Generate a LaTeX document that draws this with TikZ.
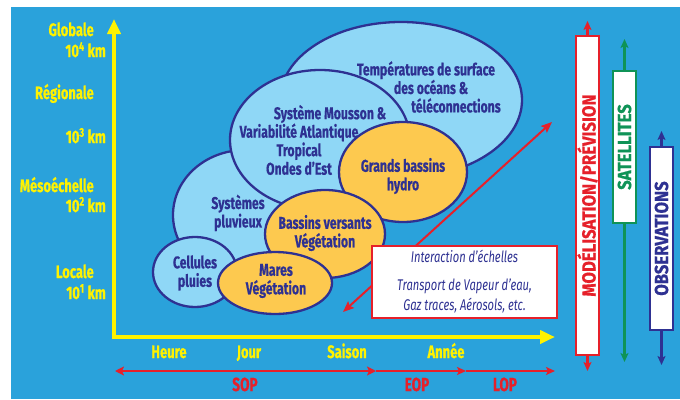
\documentclass[tikz,border=0pt]{standalone}
\usepackage{fontspec}
\setmainfont{Fira Sans}[FakeStretch=0.72, BoldFeatures={FakeBold=0.5}]
\newfontfamily\barfont{Fira Sans}[FakeStretch=0.88, BoldFeatures={FakeBold=0.5}]
\usepackage{tikz}
\usetikzlibrary{shapes.geometric}
\usetikzlibrary{arrows.meta}
\pgfdeclarelayer{nodelayer}
\pgfdeclarelayer{edgelayer}
\pgfsetlayers{nodelayer,edgelayer,main}

\definecolor{sky}{HTML}{2AA2DB}
\definecolor{pale}{HTML}{8FD7F6}
\definecolor{gold}{HTML}{FDC94F}
\definecolor{navy}{HTML}{2E3192}
\definecolor{axisyellow}{HTML}{FFF200}
\definecolor{scarlet}{HTML}{E6202A}
\definecolor{leaf}{HTML}{0F9357}

\tikzset{
  blob/.style={ellipse, draw=navy, line width=2.3pt, inner sep=0pt},
  cold/.style={blob, fill=pale},
  warm/.style={blob, fill=gold},
  blobtext/.style={text=navy, font=\fontsize{17}{18.5}\selectfont\bfseries, align=center, inner sep=0pt},
  scaletext/.style={text=axisyellow, font=\fontsize{18}{18}\selectfont\bfseries, anchor=base east, inner sep=0pt},
  timetext/.style={text=axisyellow, font=\fontsize{18}{18}\selectfont\bfseries, anchor=base, inner sep=0pt},
  periodtext/.style={text=scarlet, font=\fontsize{19}{19}\selectfont\bfseries, anchor=base, inner sep=0pt},
  bar/.style={rotate=90, fill=white, line width=1.5pt, minimum height=23pt, inner sep=0pt, font=\barfont\fontsize{19}{19}\selectfont\bfseries},
  yellowarrow/.style={axisyellow, line width=4pt, line join=miter, {Triangle[length=15pt, width=13pt]}-{Triangle[length=15pt, width=13pt]}},
  redtip/.style={-{Stealth[length=9pt, width=8pt, inset=2pt]}},
}

\begin{document}
\begin{tikzpicture}[x=1pt, y=-1pt]
  \useasboundingbox (0,0) rectangle (680,399);
  \begin{pgfonlayer}{nodelayer}
    \fill [white] (0,0) rectangle (680,399);
    \fill [sky] (11,7) rectangle (680,399);
    % scales
    \node [cold, minimum width=242pt, minimum height=156pt] (0) at (401, 100) {};
    \node [cold, minimum width=144pt, minimum height=130pt] (1) at (245, 215) {};
    \node [cold, minimum width=180pt, minimum height=140pt] (2) at (320, 140) {};
    \node [warm, minimum width=128pt, minimum height=100pt] (3) at (403, 172) {};
    \node [warm, minimum width=120pt, minimum height=88pt] (4) at (325, 234) {};
    \node [cold, minimum width=84pt, minimum height=70pt] (5) at (195, 272) {};
    \node [warm, minimum width=114pt, minimum height=62pt] (6) at (275, 283) {};
    \node [blobtext] (7) at (426, 87) {Températures de surface\\\hspace*{10pt}des océans \&\\\hspace*{60pt}téléconnections};
    \node [blobtext] (8) at (299, 140) {\hspace*{62pt}Système Mousson \&\\Variabilité Atlantique\\Tropical\\Ondes d'Est};
    \node [blobtext] (9) at (403, 176) {Grands bassins\\hydro};
    \node [blobtext] (10) at (238, 213) {Systèmes\\pluvieux};
    \node [blobtext] (11) at (325, 233) {Bassins versants\\Végétation};
    \node [blobtext] (12) at (195, 273) {Cellules\\pluies};
    \node [blobtext] (13) at (276, 281) {Mares\\Végétation};
    % interaction
    \coordinate (14) at (343, 312);
    \coordinate (15) at (552, 122);
    \draw [scarlet, line width=2pt, {Stealth[length=11pt, width=9pt, inset=2pt]}-{Stealth[length=11pt, width=9pt, inset=2pt]}] (14) -- (15);
    \node [draw=scarlet, fill=white, line width=1.5pt, minimum width=185pt, minimum height=72pt, inner sep=0pt, text=navy, align=center, font=\fontsize{15.5}{20}\selectfont\itshape] (16) at (464.5, 282) {Interaction d'échelles\\[8pt]Transport de Vapeur d'eau,\\Gaz traces, Aérosols, etc.};
    % tools
    \node [bar, draw=scarlet, text=scarlet, minimum width=319pt] (17) at (587.5, 195.5) {MODÉLISATION/PRÉVISION};
    \node [bar, draw=leaf, text=leaf, minimum width=152pt] (18) at (624.5, 147) {SATELLITES};
    \node [bar, draw=navy, text=navy, minimum width=183pt] (19) at (661.5, 238.5) {OBSERVATIONS};
    % labels
    \node [scaletext] (20) at (94, 36) {Globale};
    \node [scaletext] (21) at (106, 57) {10\textsuperscript{4} km};
    \node [scaletext] (22) at (94, 99) {Régionale};
    \node [scaletext] (23) at (106, 143) {10\textsuperscript{3} km};
    \node [scaletext] (24) at (94, 192) {Mésoéchelle};
    \node [scaletext] (25) at (106, 212) {10\textsuperscript{2} km};
    \node [scaletext] (26) at (94, 278) {Locale};
    \node [scaletext] (27) at (106, 299) {10\textsuperscript{1} km};
    \node [timetext] (28) at (169, 358) {Heure};
    \node [timetext] (29) at (249, 358) {Jour};
    \node [timetext] (30) at (347, 358) {Saison};
    \node [timetext] (31) at (446, 358) {Année};
    \node [periodtext] (32) at (245, 391) {SOP};
    \node [periodtext] (33) at (417, 391) {EOP};
    \node [periodtext] (34) at (505, 391) {LOP};
  \end{pgfonlayer}
  \begin{pgfonlayer}{edgelayer}
    \coordinate (35) at (114, 19);
    \coordinate (36) at (114, 337);
    \coordinate (37) at (555, 337);
    \draw [yellowarrow] (35) -- (36) -- (37);
    \coordinate (38) at (115, 371);
    \coordinate (39) at (376, 371);
    \coordinate (40) at (466, 371);
    \coordinate (41) at (555, 371);
    \draw [scarlet, line width=2.5pt, {Stealth[length=9pt, width=9pt, inset=2pt]}-{Stealth[length=9pt, width=9pt, inset=2pt]}] (38) -- (39);
    \draw [scarlet, line width=2.5pt, redtip] (39) -- (40);
    \draw [scarlet, line width=2.5pt, redtip] (40) -- (41);
    \coordinate (42) at (587.5, 21);
    \coordinate (43) at (587.5, 371);
    \coordinate (44) at (624.5, 39);
    \coordinate (45) at (624.5, 362);
    \coordinate (46) at (661.5, 131);
    \coordinate (47) at (661.5, 365);
    \draw [scarlet, line width=3pt, redtip] (17.east) -- (42);
    \draw [scarlet, line width=3pt, redtip] (17.west) -- (43);
    \draw [leaf, line width=3pt, redtip] (18.east) -- (44);
    \draw [leaf, line width=3pt, redtip] (18.west) -- (45);
    \draw [navy, line width=3pt, redtip] (19.east) -- (46);
    \draw [navy, line width=3pt, redtip] (19.west) -- (47);
  \end{pgfonlayer}
\end{tikzpicture}
\end{document}
